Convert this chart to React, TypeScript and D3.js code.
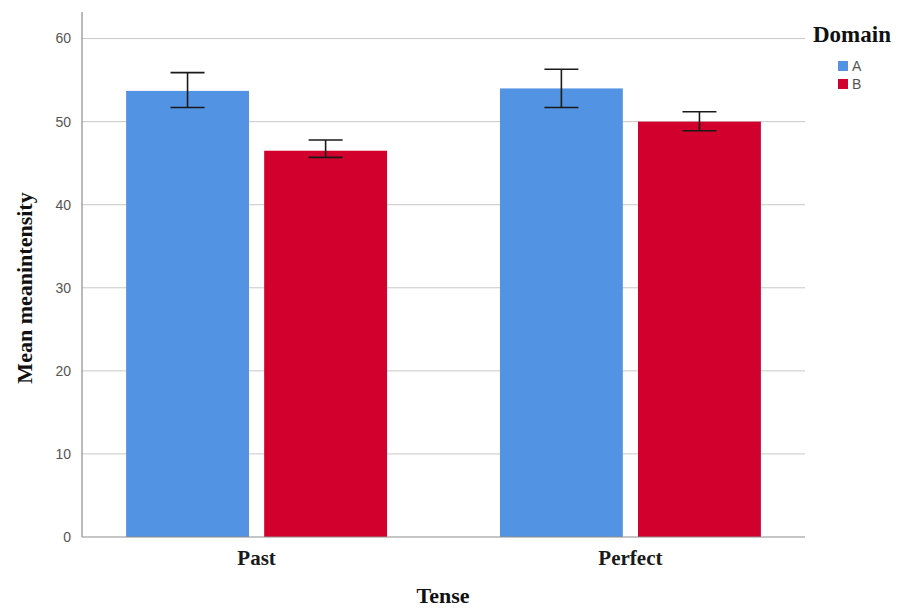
import React, { useEffect, useRef } from 'react';
import * as d3 from 'd3';

const tenses = ['Past', 'Perfect'];
const domains = ['A', 'B'];
const meanA = [53.7, 54.0];
const meanB = [46.5, 50.0];
const lowA = [51.7, 51.7];
const highA = [55.9, 56.3];
const lowB = [45.7, 48.9];
const highB = [47.8, 51.2];
const yTicks = [0, 10, 20, 30, 40, 50, 60];
const colors = ['#5393e3', '#d2002d'];

const W = 898;
const H = 611;
const serif = 'Liberation Serif, Times New Roman, serif';
const sans = 'Liberation Sans, Arial, sans-serif';

export default function App() {
  const ref = useRef<SVGSVGElement>(null);

  useEffect(() => {
    const svg = d3.select(ref.current);
    svg.selectAll('*').remove();

    const left = 82, right = 805, top = 12, bottom = 537;

    const y = d3.scaleLinear().domain([0, 63.2]).range([bottom, top]);
    const x0 = d3.scaleBand().domain(tenses).range([left, right]).paddingInner(0.302).paddingOuter(0.118);
    const x1 = d3.scaleBand().domain(domains).range([0, x0.bandwidth()]).paddingInner(0.11);

    // grid
    svg.append('g')
      .selectAll('line')
      .data(yTicks.filter(t => t > 0))
      .enter()
      .append('line')
      .attr('x1', left)
      .attr('x2', right)
      .attr('y1', d => y(d))
      .attr('y2', d => y(d))
      .attr('stroke', '#c8c8c8')
      .attr('stroke-width', 1);

    const rows = tenses.map((t, i) => [
      { t, d: 'A', v: meanA[i], lo: lowA[i], hi: highA[i] },
      { t, d: 'B', v: meanB[i], lo: lowB[i], hi: highB[i] },
    ]).flat();

    svg.append('g')
      .selectAll('rect')
      .data(rows)
      .enter()
      .append('rect')
      .attr('x', r => x0(r.t)! + x1(r.d)!)
      .attr('y', r => y(r.v))
      .attr('width', x1.bandwidth())
      .attr('height', r => bottom - y(r.v))
      .attr('fill', r => colors[domains.indexOf(r.d)]);

    // error bars
    const eb = svg.append('g').attr('stroke', '#1a1a1a').attr('stroke-width', 1.6);
    rows.forEach(r => {
      const cx = x0(r.t)! + x1(r.d)! + x1.bandwidth() / 2;
      eb.append('line').attr('x1', cx).attr('x2', cx).attr('y1', y(r.hi)).attr('y2', y(r.lo));
      eb.append('line').attr('x1', cx - 17).attr('x2', cx + 17).attr('y1', y(r.hi)).attr('y2', y(r.hi));
      eb.append('line').attr('x1', cx - 17).attr('x2', cx + 17).attr('y1', y(r.lo)).attr('y2', y(r.lo));
    });

    // axes lines
    svg.append('line').attr('x1', left).attr('x2', left).attr('y1', top).attr('y2', bottom)
      .attr('stroke', '#8c8c8c').attr('stroke-width', 1.2);
    svg.append('line').attr('x1', left).attr('x2', right).attr('y1', bottom).attr('y2', bottom)
      .attr('stroke', '#8c8c8c').attr('stroke-width', 1.2);

    // y tick labels
    svg.append('g')
      .selectAll('text')
      .data(yTicks)
      .enter()
      .append('text')
      .attr('x', left - 11)
      .attr('y', d => y(d))
      .attr('dy', '0.35em')
      .attr('text-anchor', 'end')
      .attr('font-family', sans)
      .attr('font-size', 14)
      .attr('fill', '#555')
      .text(d => d);

    // x tick labels
    svg.append('g')
      .selectAll('text')
      .data(tenses)
      .enter()
      .append('text')
      .attr('x', d => x0(d)! + x0.bandwidth() / 2)
      .attr('y', 565)
      .attr('text-anchor', 'middle')
      .attr('font-family', serif)
      .attr('font-weight', 'bold')
      .attr('font-size', 21)
      .attr('fill', '#1a1a1a')
      .text(d => d);

    // axis titles
    svg.append('text')
      .attr('x', 443)
      .attr('y', 603)
      .attr('text-anchor', 'middle')
      .attr('font-family', serif)
      .attr('font-weight', 'bold')
      .attr('font-size', 22)
      .attr('fill', '#111')
      .text('Tense');

    svg.append('text')
      .attr('transform', 'translate(32,288) rotate(-90)')
      .attr('text-anchor', 'middle')
      .attr('font-family', serif)
      .attr('font-weight', 'bold')
      .attr('font-size', 22)
      .attr('fill', '#111')
      .text('Mean meanintensity');

    // legend
    svg.append('text')
      .attr('x', 813)
      .attr('y', 42)
      .attr('font-family', serif)
      .attr('font-weight', 'bold')
      .attr('font-size', 23)
      .attr('fill', '#111')
      .text('Domain');

    const lg = svg.append('g')
      .selectAll('g')
      .data(domains)
      .enter()
      .append('g')
      .attr('transform', (d, i) => `translate(838,${61 + i * 18})`);
    lg.append('rect').attr('width', 10).attr('height', 10).attr('fill', (d, i) => colors[i]);
    lg.append('text')
      .attr('x', 14)
      .attr('y', 5)
      .attr('dy', '0.38em')
      .attr('font-family', sans)
      .attr('font-size', 14)
      .attr('fill', '#555')
      .text(d => d);
  }, []);

  return <svg ref={ref} width={W} height={H} style={{ display: 'block', position: 'absolute', left: 0, top: 0 }} />;
}
